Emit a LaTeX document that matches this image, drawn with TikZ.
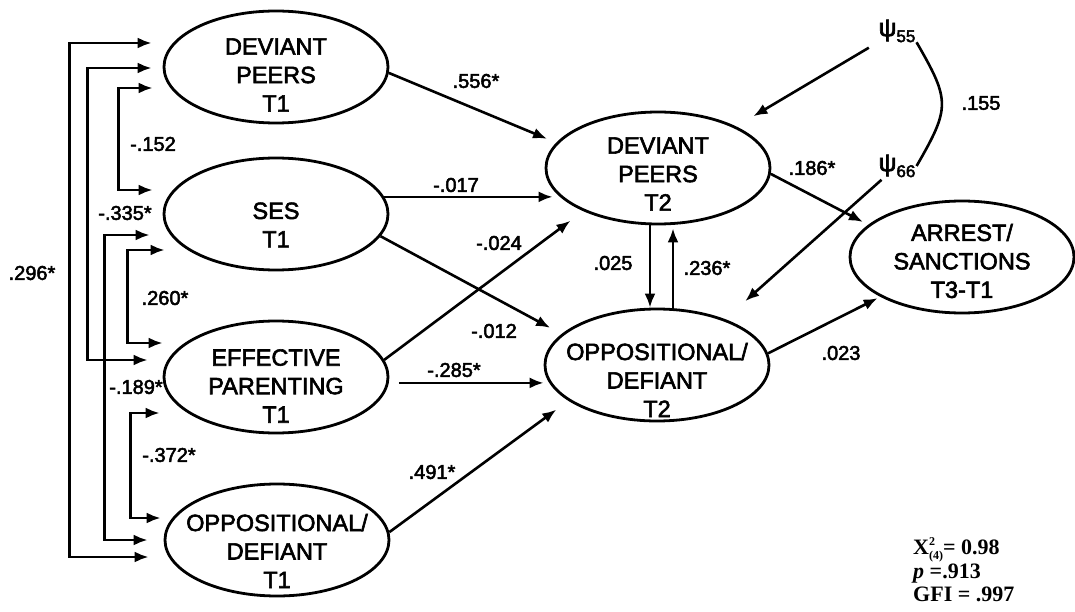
\documentclass[tikz,border=0pt]{standalone}
\usepackage{fontspec}
\setmainfont{Liberation Sans}[BoldFont={Liberation Sans},BoldFeatures={FakeBold=2.5}]
\newfontfamily\statfont{Liberation Serif}
\usetikzlibrary{shapes.geometric,arrows.meta}

\begin{document}
\begin{tikzpicture}[x=1pt,y=-1pt,
  >={Latex[length=14pt,width=11pt]},
  latent/.style={ellipse,draw,line width=2.8pt,minimum width=224pt,minimum height=112pt,inner sep=0pt},
  latent text/.style={align=center,inner sep=0pt,font=\bfseries\fontsize{23.5}{28.5}\selectfont},
  effect/.style={->,line width=2.6pt},
  corr/.style={<->,line width=2.6pt},
  coef/.style={inner sep=0pt,font=\bfseries\fontsize{20}{24}\selectfont},
  resid/.style={inner sep=1pt,font=\bfseries\fontsize{25}{25}\selectfont},
  stats/.style={align=left,inner sep=0pt,font=\statfont\bfseries\fontsize{22}{23.5}\selectfont}]
  \useasboundingbox[fill=white] (0,0) rectangle (1075,612);

  \node[latent] (d1) at (276,67) {};
  \node[latent text] (d1t) at ([yshift=-8pt]d1.center) {DEVIANT\\PEERS\\T1};
  \node[latent] (s1) at (276,214) {};
  \node[latent text] (s1t) at ([yshift=-11pt]s1.center) {SES\\T1};
  \node[latent] (e1) at (276,377) {};
  \node[latent text] (e1t) at ([yshift=-9pt]e1.center) {EFFECTIVE\\PARENTING\\T1};
  \node[latent] (o1) at (277,540) {};
  \node[latent text] (o1t) at ([yshift=-11pt]o1.center) {OPPOSITIONAL/\\DEFIANT\\T1};
  \node[latent] (d2) at (658,168) {};
  \node[latent text] (d2t) at ([yshift=-6pt]d2.center) {DEVIANT\\PEERS\\T2};
  \node[latent] (o2) at (657,365) {};
  \node[latent text] (o2t) at ([yshift=-15pt]o2.center) {OPPOSITIONAL/\\DEFIANT\\T2};
  \node[latent] (a3) at (962,257) {};
  \node[latent text] (a3t) at ([yshift=-4pt]a3.center) {ARREST/\\SANCTIONS\\T3-T1};

  \node[resid] (p55) at (897,31) {ψ\raisebox{-6pt}{\fontsize{17}{17}\selectfont 55}};
  \node[resid] (p66) at (897,166) {ψ\raisebox{-6pt}{\fontsize{17}{17}\selectfont 66}};

  \draw[corr] ([shift={(-11,-24)}]d1.west) -- ++(-82,0) |- ([shift={(-15,17)}]o1.west);
  \draw[corr] ([shift={(-11,1)}]d1.west) -- ++(-64,0) |- ([shift={(-15,-17)}]e1.west);
  \draw[corr] ([shift={(-10,21)}]d1.west) -- ++(-34,0) |- ([shift={(-10,-24)}]s1.west);
  \draw[corr] ([shift={(-13,21)}]s1.west) -- ++(-45,0) |- ([shift={(-16,0)}]o1.west);
  \draw[corr] ([shift={(2,36)}]s1.west) -- ++(-37,0) |- ([shift={(0,-34)}]e1.west);
  \draw[corr] ([shift={(-3,36)}]e1.west) -- ++(-29,0) |- ([shift={(-3,-22)}]o1.west);

  \draw[effect,shorten >=10pt] (d1.-3) -- (d2.166);
  \draw[effect,shorten >=-8pt] (s1.9) -- (s1.9 -| d2.west);
  \draw[effect,shorten >=16pt] (e1.9.5) -- (d2.210.6);
  \draw[effect,shorten >=13pt] (s1.-12) -- (o2.162);
  \draw[effect,shorten <=10pt] (e1.-3) -- (e1.-3 -| o2.west);
  \draw[effect,shorten >=15pt] (o1.4) -- (o2.202);
  \draw[effect] ([xshift=-8pt]d2.south) -- ([xshift=-8pt]d2.south |- o2.north);
  \draw[effect,shorten >=3pt] ([xshift=16pt]o2.north) -- ([xshift=16pt]o2.north |- d2.south);
  \draw[effect,shorten >=6pt] (d2.-3.5) -- (a3.161);
  \draw[effect,shorten >=3pt] (o2.6) -- (a3.206);
  \draw[effect,shorten <=10pt,shorten >=20pt] (p55) -- (d2.28);
  \draw[effect,shorten <=2pt,shorten >=27pt] (p66) -- (o2.34.6);
  \draw[line width=2.6pt] (p55.-30) to[out=-60,in=60,looseness=1.4] (p66.east);

  \node[coef] (c556) at (476,81) {.556*};
  \node[coef] (c017) at (456,185) {-.017};
  \node[coef] (c024) at (499,243) {-.024};
  \node[coef] (c012) at (494,331) {-.012};
  \node[coef] (c285) at (454,370) {-.285*};
  \node[coef] (c491) at (432,472) {.491*};
  \node[coef] (c025) at (613,263) {.025};
  \node[coef] (c236) at (707,268) {.236*};
  \node[coef] (c186) at (812,168) {.186*};
  \node[coef] (c023) at (841,353) {.023};
  \node[coef] (c155) at (981,103) {.155};
  \node[coef] (r152) at (153,144) {-.152};
  \node[coef] (r335) at (125,213) {-.335*};
  \node[coef] (r296) at (32,273) {.296*};
  \node[coef] (r260) at (165,298) {.260*};
  \node[coef] (r189) at (136,387) {-.189*};
  \node[coef] (r372) at (169,455) {-.372*};

  \node[stats,anchor=north west] (gof) at (913,540)
    {X\rlap{\smash{\raisebox{9pt}{\fontsize{12}{12}\selectfont 2}}}\smash{\raisebox{-4.5pt}{\fontsize{12}{12}\selectfont (4)}}= 0.98\\
     \textit{p} =.913\\
     GFI = .997};
\end{tikzpicture}
\end{document}
